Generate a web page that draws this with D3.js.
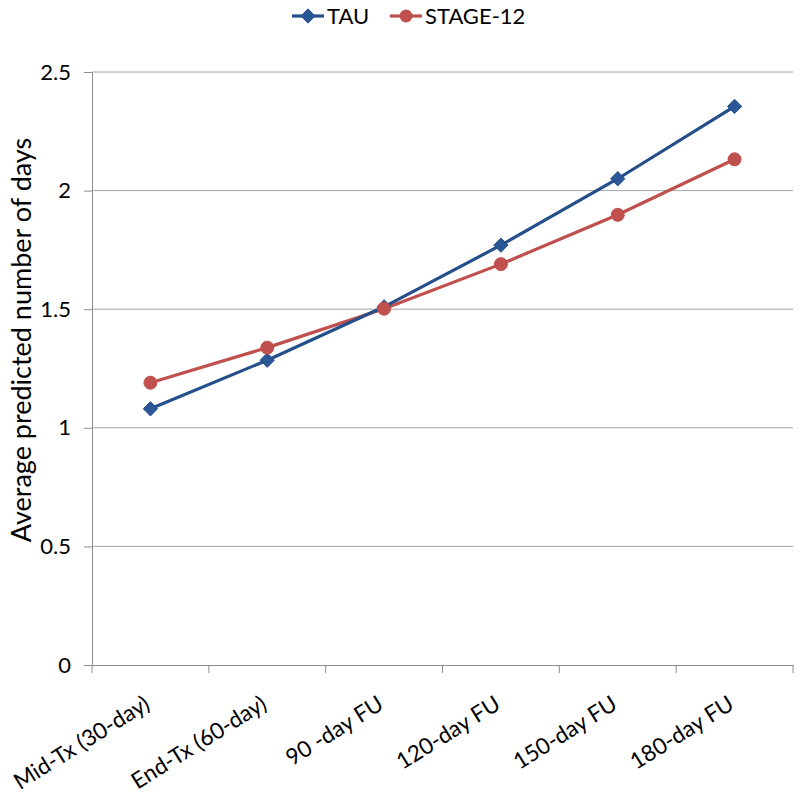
<!DOCTYPE html>
<html><head><meta charset="utf-8">
<script src="https://cdn.jsdelivr.net/npm/d3@7"></script>
<style>body{margin:0;background:#fff}svg{display:block}</style>
</head><body>
<svg id="c" width="800" height="796"></svg>
<script>
const categories = ["Mid-Tx (30-day)", "End-Tx (60-day)", "90 -day FU", "120-day FU", "150-day FU", "180-day FU"];
const tauValues = [1.08, 1.285, 1.51, 1.77, 2.05, 2.355];
const stageValues = [1.19, 1.338, 1.502, 1.69, 1.898, 2.132];
const yTicks = [0, 0.5, 1, 1.5, 2, 2.5];
const seriesNames = ["TAU", "STAGE-12"];

const font = "Lato, 'Open Sans', sans-serif";
const svg = d3.select("#c");
const m = {l: 92, r: 793, t: 72, b: 665};
const x = d3.scaleBand().domain(categories).range([m.l, m.r]);
const y = d3.scaleLinear().domain([0, 2.5]).range([m.b, m.t]);

// gridlines
svg.append("g").selectAll("line").data(yTicks.filter(d => d > 0)).join("line")
  .attr("x1", m.l).attr("x2", m.r).attr("y1", d => y(d)).attr("y2", d => y(d))
  .attr("stroke", "#a6a6a6").attr("stroke-width", 1);

// y axis
const ya = svg.append("g").attr("transform", `translate(${m.l},0)`)
  .call(d3.axisLeft(y).tickValues(yTicks).tickSize(8).tickPadding(13).tickFormat(d3.format("")));
ya.select(".domain").attr("stroke", "#8c8c8c");
ya.selectAll(".tick line").attr("stroke", "#8c8c8c");
ya.selectAll("text").attr("font-family", font).attr("font-size", 22).attr("fill", "#000");

// x axis
const xa = svg.append("g").attr("transform", `translate(0,${m.b})`)
  .call(d3.axisBottom(x).tickSize(0).tickFormat(""));
xa.select(".domain").attr("stroke", "#8c8c8c");
const bounds = [...categories.map(c => x(c)), x(categories[categories.length-1]) + x.bandwidth()];
xa.selectAll(".bt").data(bounds).join("line").attr("class","bt")
  .attr("x1", d => d).attr("x2", d => d).attr("y1", 0).attr("y2", 8).attr("stroke", "#8c8c8c");
xa.selectAll(".xl").data(categories).join("text").attr("class","xl")
  .attr("font-family", font).attr("font-size", 22.5).attr("text-anchor", "end").attr("fill", "#000")
  .attr("transform", d => `translate(${x(d) + x.bandwidth()/2 + 1},${43}) rotate(-32)`)
  .text(d => d);

// y title
svg.append("text").attr("font-family", font).attr("font-size", 27).attr("text-anchor", "middle").attr("fill", "#000")
  .attr("transform", `translate(31,${340}) rotate(-90)`)
  .text("Average predicted number of days");

const cx = d => x(d) + x.bandwidth()/2;
const line = d3.line().x(d => cx(d[0])).y(d => y(d[1]));
const tauColor = "#254F8A", tauFill = "#2B5797";
const stColor = "#C0504D";

svg.append("path").datum(categories.map((c,i) => [c, stageValues[i]]))
  .attr("d", line).attr("fill", "none").attr("stroke", stColor).attr("stroke-width", 3.2);
svg.append("path").datum(categories.map((c,i) => [c, tauValues[i]]))
  .attr("d", line).attr("fill", "none").attr("stroke", tauColor).attr("stroke-width", 3.2);

const diamond = d3.symbol().type(d3.symbolDiamond2).size(130);
svg.append("g").selectAll("path").data(categories.map((c,i) => [c, tauValues[i]])).join("path")
  .attr("d", diamond).attr("transform", d => `translate(${cx(d[0])},${y(d[1])})`)
  .attr("fill", tauFill).attr("stroke", tauColor).attr("stroke-width", 1);
svg.append("g").selectAll("circle").data(categories.map((c,i) => [c, stageValues[i]])).join("circle")
  .attr("cx", d => cx(d[0])).attr("cy", d => y(d[1])).attr("r", 6.5)
  .attr("fill", stColor).attr("stroke", stColor);

// legend
const lg = svg.append("g");
const items = [{name: seriesNames[0], x: 292, color: tauColor, type: "d"}, {name: seriesNames[1], x: 390, color: stColor, type: "c"}];
items.forEach(it => {
  lg.append("line").attr("x1", it.x).attr("x2", it.x + 32).attr("y1", 16).attr("y2", 16)
    .attr("stroke", it.color).attr("stroke-width", 3.2);
  if (it.type === "d") lg.append("path").attr("d", diamond).attr("transform", `translate(${it.x+16},16)`).attr("fill", tauFill).attr("stroke", tauColor);
  else lg.append("circle").attr("cx", it.x+16).attr("cy", 16).attr("r", 6.5).attr("fill", stColor);
  lg.append("text").attr("x", it.x + 35).attr("y", 24).attr("font-family", font).attr("font-size", 22).attr("fill", "#000").text(it.name);
});
</script>
</body></html>
